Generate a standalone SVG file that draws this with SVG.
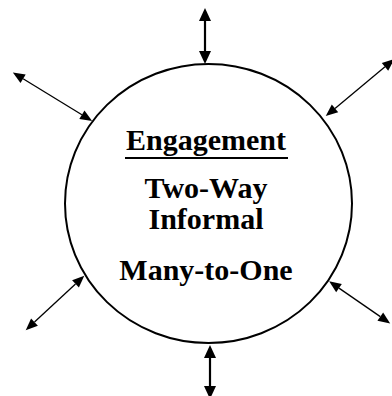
<svg xmlns="http://www.w3.org/2000/svg" width="392" height="396" viewBox="0 0 392 396">
  <style>
    .hub { fill: #ffffff; stroke: #000000; stroke-width: 2; }
    .label { font-family: "Liberation Serif", "Times New Roman", serif; font-weight: bold; font-size: 30px; fill: #000000; text-anchor: middle; }
    .rule { stroke: #000000; stroke-width: 2; }
    .thick { stroke: #000000; stroke-width: 2.2; fill: none; marker-start: url(#headBig); marker-end: url(#headBig); }
    .thin { stroke: #000000; stroke-width: 1.3; fill: none; marker-start: url(#headSmall); marker-end: url(#headSmall); }
  </style>
  <defs>
    <marker id="headBig" markerUnits="userSpaceOnUse" markerWidth="14" markerHeight="13" refX="0" refY="6" orient="auto-start-reverse" overflow="visible">
      <path d="M0,0 L13,6 L0,12 Z" fill="#000000"/>
    </marker>
    <marker id="headSmall" markerUnits="userSpaceOnUse" markerWidth="13" markerHeight="11" refX="0" refY="5" orient="auto-start-reverse" overflow="visible">
      <path d="M0,0 L12,5 L0,10 Z" fill="#000000"/>
    </marker>
  </defs>

  <rect width="392" height="396" fill="#ffffff"/>

  <!-- central hub -->
  <g id="engagement">
    <ellipse class="hub" cx="208.5" cy="203.5" rx="143.5" ry="139.5"/>
    <text class="label" x="206" y="150">Engagement</text>
    <line class="rule" x1="125" y1="158" x2="288" y2="158"/>
    <text class="label" x="206" y="198">Two-Way</text>
    <text class="label" x="206" y="229">Informal</text>
    <text class="label" x="206" y="280">Many-to-One</text>
  </g>

  <!-- two-way links radiating from the hub -->
  <g id="connectors">
    <line class="thick" x1="205" y1="21" x2="205" y2="51"/>
    <line class="thick" x1="210" y1="358" x2="210" y2="386"/>
    <line class="thin" x1="23.1" y1="78.8" x2="81.9" y2="114.7"/>
    <line class="thin" x1="335" y1="108.4" x2="385" y2="66.8"/>
    <line class="thin" x1="75.5" y1="283.9" x2="34.5" y2="322.1"/>
    <line class="thin" x1="339" y1="288.1" x2="380.3" y2="316.6"/>
  </g>
</svg>
